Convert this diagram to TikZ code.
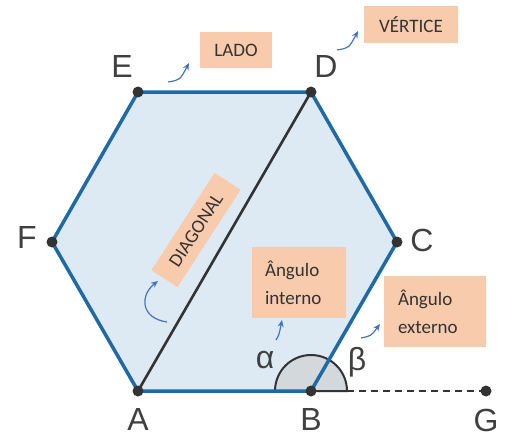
\documentclass[tikz,border=0pt]{standalone}
\usepackage{fontspec}
\setmainfont{Carlito}
\newfontfamily\labfont{Liberation Sans}
\usetikzlibrary{arrows.meta}
\definecolor{edgeblue}{HTML}{1F6AA5}
\definecolor{hexfill}{HTML}{DDE9F3}
\definecolor{boxfill}{HTML}{F8CBAD}
\definecolor{arrowblue}{HTML}{4472C4}
\definecolor{dotgray}{HTML}{333333}
\definecolor{labgray}{HTML}{404040}
\definecolor{anglefill}{HTML}{D3D8DD}
\begin{document}
\begin{tikzpicture}[x=1pt,y=-1pt,
  vlabel/.style={font=\labfont\fontsize{32}{32}\selectfont, text=labgray, inner sep=0},
  infobox/.style={fill=boxfill, font=\fontsize{19}{28}\selectfont, text=black!80, inner sep=0, align=center},
  infobox2/.style={fill=boxfill, font=\fontsize{19}{28}\selectfont, text=black!80, inner ysep=0, align=left},
  vdot/.style={circle, fill=dotgray, inner sep=0, minimum size=11pt},
  hexedge/.style={edgeblue, line width=3.5pt, line join=round},
  pointer/.style={arrowblue, line width=1.2pt, -{Stealth[length=7pt,width=6pt]}}]
\useasboundingbox (0,0) rectangle (512,437);
% vertices
\coordinate (A) at (138,391);
\coordinate (B) at (311,391);
\coordinate (C) at (397,242);
\coordinate (D) at (311,92);
\coordinate (E) at (138,92);
\coordinate (F) at (52,242);
\coordinate (G) at (486,391);
% fill
\fill[hexfill] (A) -- (B) -- (C) -- (D) -- (E) -- (F) -- cycle;
% diagonal
\draw[dotgray, line width=2.6pt] (A) -- (D);
% angle
\filldraw[fill=anglefill, draw=dotgray, line width=2pt] (B) ++(-36pt,0) arc[start angle=180, end angle=0, radius=36pt] -- cycle;
% dashed extension
\draw[dotgray, line width=2.4pt, dash pattern=on 7pt off 5pt] (B) -- (G);
% edges
\draw[hexedge] (A) -- (B) -- (C) -- (D) -- (E) -- (F) -- cycle;
% dots
\foreach \p in {A,B,C,D,E,F,G} \node[vdot] at (\p) {};
% vertex labels
\node[vlabel] (lA) at (138,419) {A};
\node[vlabel] (lB) at (311,419) {B};
\node[vlabel] (lC) at (422,240) {C};
\node[vlabel] (lD) at (326,66) {D};
\node[vlabel] (lE) at (122,66) {E};
\node[vlabel] (lF) at (27,237) {F};
\node[vlabel] (lG) at (486,420) {G};
\node[vlabel] (alpha) at (265,360) {α};
\node[vlabel] (beta) at (357,362) {β};
% boxes
\node[infobox, minimum width=72pt, minimum height=36pt] (lado) at (236,50) {LADO};
\node[infobox, minimum width=94pt, minimum height=37pt] (vert) at (411,24.5) {VÉRTICE};
\node[infobox, minimum width=116pt, minimum height=31pt, rotate=57] (diag) at (196,230) {DIAGONAL};
\node[infobox2, inner xsep=13pt, text width=68pt, minimum height=71pt] (intern) at (299,282.5) {Ângulo\\interno};
\node[infobox2, inner xsep=14pt, text width=74pt, minimum height=71pt] (extern) at (435,311.5) {Ângulo\\externo};
% pointers
\coordinate (ladoS) at (168,82);
\coordinate (ladoE) at (189,63);
\draw[pointer] (ladoS) .. controls (180,80) .. (ladoE);
\coordinate (vertS) at (337,50);
\coordinate (vertE) at (358,31);
\draw[pointer] (vertS) .. controls (349,48) .. (vertE);
\coordinate (diagS) at (167,322);
\coordinate (diagE) at (158,281);
\draw[pointer] (diagS) .. controls (140,318) and (140,295) .. (diagE);
\coordinate (intS) at (276,340);
\coordinate (intE) at (282,320);
\draw[pointer] (intS) .. controls (279,335) .. (intE);
\coordinate (extS) at (361,338);
\coordinate (extE) at (380,324);
\draw[pointer] (extS) .. controls (371,336) .. (extE);
\end{tikzpicture}
\end{document}
